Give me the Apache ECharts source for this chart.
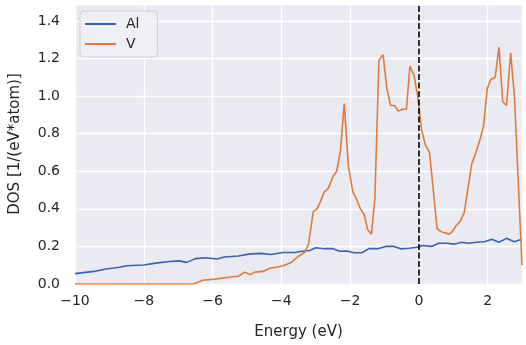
<!DOCTYPE html>
<html>
<head>
<meta charset="utf-8">
<script src="https://cdn.jsdelivr.net/npm/echarts@6/dist/echarts.min.js"></script>
<style>
html,body{margin:0;padding:0;background:#fff;}
#chart{width:526px;height:345px;}
</style>
</head>
<body>
<div id="chart"></div>
<script>
// Al (blue) - energy / dos
var alEnergy = [-10.0,-9.45,-9.1,-8.7,-8.5,-8.0,-7.65,-7.25,-6.98,-6.75,-6.5,-6.2,-5.88,-5.65,-5.25,-4.95,-4.6,-4.3,-3.95,-3.6,-3.4,-3.18,-3.0,-2.75,-2.5,-2.3,-2.1,-1.88,-1.66,-1.45,-1.2,-0.96,-0.72,-0.53,-0.29,0.0,0.1,0.37,0.58,0.82,1.03,1.24,1.45,1.67,1.91,2.12,2.33,2.55,2.77,2.95,3.0];
var alDos = [0.055,0.067,0.08,0.089,0.097,0.101,0.111,0.12,0.123,0.115,0.135,0.14,0.133,0.144,0.149,0.159,0.163,0.157,0.168,0.168,0.174,0.178,0.193,0.188,0.188,0.174,0.176,0.166,0.166,0.188,0.188,0.2,0.2,0.187,0.19,0.197,0.205,0.2,0.217,0.217,0.212,0.222,0.217,0.222,0.225,0.238,0.222,0.243,0.225,0.235,0.232];
// V (orange)
var vEnergy = [-10.0,-6.55,-6.29,-5.93,-5.64,-5.25,-5.06,-4.91,-4.77,-4.53,-4.34,-4.14,-3.95,-3.71,-3.52,-3.32,-3.21,-3.07,-2.96,-2.86,-2.75,-2.63,-2.5,-2.39,-2.28,-2.17,-2.05,-1.92,-1.81,-1.7,-1.59,-1.49,-1.38,-1.28,-1.16,-1.04,-0.93,-0.82,-0.7,-0.6,-0.48,-0.36,-0.26,-0.14,-0.03,0.08,0.19,0.31,0.42,0.53,0.66,0.77,0.89,0.98,1.08,1.2,1.32,1.43,1.54,1.66,1.78,1.88,1.99,2.1,2.22,2.33,2.44,2.55,2.67,2.78,3.0];
var vDos = [0,0,0.02,0.026,0.033,0.041,0.063,0.05,0.063,0.067,0.084,0.089,0.097,0.115,0.145,0.169,0.209,0.385,0.40,0.44,0.49,0.51,0.57,0.60,0.71,0.96,0.63,0.49,0.45,0.40,0.37,0.29,0.265,0.45,1.19,1.22,1.04,0.95,0.95,0.92,0.93,0.93,1.16,1.11,0.995,0.82,0.74,0.70,0.50,0.294,0.277,0.272,0.265,0.28,0.31,0.333,0.38,0.51,0.64,0.70,0.77,0.84,1.04,1.09,1.10,1.26,0.97,0.95,1.23,1.00,0.1];
var fermiLevel = 0;

function pairs(xs, ys){
	var out = [];
	for(var i=0;i<xs.length;i++){
		out.push([xs[i], ys[i]]);
	}
	return out;
}

var textColor = '#262626';
var myChart = echarts.init(document.getElementById('chart'));
var option = {
	animation: false,
	textStyle: {fontFamily: 'DejaVu Sans'},
	grid: {
		left: 73, right: 4, top: 4, bottom: 49,
		show: true,
		backgroundColor: '#EAEAF2',
		borderWidth: 0
	},
	legend: {
		left: 80, top: 11,
		orient: 'vertical',
		padding: [6, 18, 6, 5],
		itemGap: 6,
		itemWidth: 31,
		itemHeight: 2,
		icon: 'rect',
		backgroundColor: 'rgba(240,240,246,0.9)',
		borderColor: '#d0d0d8',
		borderWidth: 1,
		borderRadius: 4,
		textStyle: {color: textColor, fontSize: 14, padding: [0,0,0,5]},
		data: ['Al', 'V']
	},
	xAxis: {
		type: 'value',
		min: -10, max: 3, interval: 2,
		name: 'Energy (eV)',
		nameLocation: 'middle',
		nameGap: 41,
		nameTextStyle: {color: textColor, fontSize: 15},
		axisLine: {show: false},
		axisTick: {show: false},
		axisLabel: {
			color: textColor, fontSize: 14, margin: 10,
			showMaxLabel: false,
			formatter: function(v){ return String(v).replace('-', '\u2212'); }
		},
		splitLine: {show: true, lineStyle: {color: '#ffffff', width: 1.3}}
	},
	yAxis: {
		type: 'value',
		min: 0, max: 1.49, interval: 0.2,
		name: 'DOS [1/(eV*atom)]',
		nameLocation: 'middle',
		nameGap: 52,
		nameTextStyle: {color: textColor, fontSize: 15},
		axisLine: {show: false},
		axisTick: {show: false},
		axisLabel: {
			color: textColor, fontSize: 14, margin: 15,
			showMaxLabel: false,
			formatter: function(v){ return v.toFixed(1); }
		},
		splitLine: {show: true, lineStyle: {color: '#ffffff', width: 1.3}}
	},
	series: [
		{
			name: 'Al',
			type: 'line',
			symbol: 'none',
			color: '#3A62AD',
			lineStyle: {width: 1.6},
			data: pairs(alEnergy, alDos)
		},
		{
			name: 'V',
			type: 'line',
			symbol: 'none',
			color: '#E07B3C',
			lineStyle: {width: 1.6},
			data: pairs(vEnergy, vDos),
			markLine: {
				silent: true,
				symbol: 'none',
				label: {show: false},
				lineStyle: {color: '#000000', type: [6, 2.5], width: 1.6},
				data: [{xAxis: fermiLevel}]
			}
		}
	]
};
myChart.setOption(option);
</script>
</body>
</html>
